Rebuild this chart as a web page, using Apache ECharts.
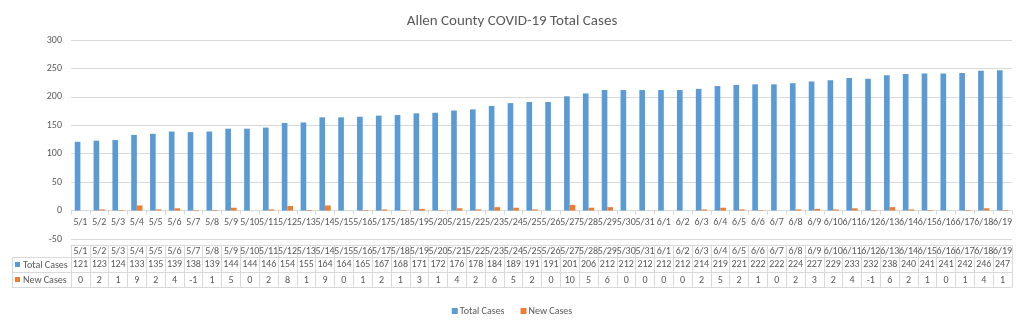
<!DOCTYPE html>
<html>
<head>
<meta charset="utf-8">
<script src="https://cdn.jsdelivr.net/npm/echarts@6/dist/echarts.min.js"></script>
<style>
html,body{margin:0;padding:0;background:#fff;}
#chart{width:1024px;height:325px;}
</style>
</head>
<body>
<div id="chart"></div>
<script>
var categories = ['5/1','5/2','5/3','5/4','5/5','5/6','5/7','5/8','5/9','5/10','5/11','5/12','5/13','5/14','5/15','5/16','5/17','5/18','5/19','5/20','5/21','5/22','5/23','5/24','5/25','5/26','5/27','5/28','5/29','5/30','5/31','6/1','6/2','6/3','6/4','6/5','6/6','6/7','6/8','6/9','6/10','6/11','6/12','6/13','6/14','6/15','6/16','6/17','6/18','6/19'];
var totalCases = [121,123,124,133,135,139,138,139,144,144,146,154,155,164,164,165,167,168,171,172,176,178,184,189,191,191,201,206,212,212,212,212,212,214,219,221,222,222,224,227,229,233,232,238,240,241,241,242,246,247];
var newCases = [0,2,1,9,2,4,-1,1,5,0,2,8,1,9,0,1,2,1,3,1,4,2,6,5,2,0,10,5,6,0,0,0,0,2,5,2,1,0,2,3,2,4,-1,6,2,1,0,1,4,1];
var yTicks = {min: -50, max: 300, interval: 50};
var seriesNames = ['Total Cases', 'New Cases'];

var FONT = "Carlito, 'Liberation Sans Narrow', 'Liberation Sans', sans-serif";
var TXT = '#595959';
var LINE = '#d9d9d9';
var BLUE = '#5B9BD5';
var ORANGE = '#ED7D31';

var H = 325, GRID_TOP = 40, GRID_BOTTOM = 86;
var gridH = H - GRID_TOP - GRID_BOTTOM;
// distance from grid bottom edge up to the zero line (labels of an onZero axis stay at the grid edge)
var zeroLift = gridH * (0 - yTicks.min) / (yTicks.max - yTicks.min);

function tableAxis(offset, tickLen, margin, fmt, showLabel) {
  return {
    type: 'category', data: categories, gridIndex: 0, position: 'bottom', offset: offset,
    axisLine: {show: true, onZero: false, lineStyle: {color: LINE}},
    axisTick: {show: tickLen > 0, interval: 0, length: tickLen, lineStyle: {color: LINE}},
    axisLabel: {show: showLabel, interval: 0, margin: margin, verticalAlign: 'middle', color: TXT, fontSize: 10, fontFamily: FONT, hideOverlap: false, formatter: fmt},
    splitLine: {show: false}
  };
}

var chart = echarts.init(document.getElementById('chart'), null, {renderer: 'canvas'});
chart.setOption({
  animation: false,
  backgroundColor: '#fff',
  title: {text: 'Allen County COVID-19 Total Cases', left: 'center', top: 9,
    textStyle: {color: TXT, fontSize: 15, fontWeight: 'normal', fontFamily: FONT}},
  legend: {data: seriesNames, bottom: 4, left: 'center', itemWidth: 6, itemHeight: 6, itemGap: 16,
    icon: 'rect', textStyle: {color: TXT, fontSize: 10, fontFamily: FONT, padding: [0, 0, 0, -3]}},
  grid: {left: 71, right: 12, top: GRID_TOP, bottom: GRID_BOTTOM, containLabel: false},
  xAxis: [
    {type: 'category', data: categories,
      axisLine: {show: true, onZero: true, lineStyle: {color: LINE}},
      axisTick: {show: true, interval: 0, length: 4, lineStyle: {color: LINE}},
      axisLabel: {interval: 0, margin: 12 - zeroLift, verticalAlign: 'middle', color: TXT, fontSize: 10, fontFamily: FONT, hideOverlap: false},
      splitLine: {show: false}},
    tableAxis(6, 12, 6, function (v) { return v; }, true),
    tableAxis(18, 15, 7.5, function (v, i) { return String(totalCases[i]); }, true),
    tableAxis(33, 15, 8, function (v, i) { return String(newCases[i]); }, true),
    tableAxis(48, 0, 0, function () { return ''; }, false)
  ],
  yAxis: {type: 'value', min: yTicks.min, max: yTicks.max, interval: yTicks.interval,
    axisLine: {show: false}, axisTick: {show: false},
    axisLabel: {color: TXT, fontSize: 10, fontFamily: FONT, margin: 9},
    splitLine: {lineStyle: {color: LINE, width: 1}}},
  series: [
    {name: seriesNames[0], type: 'bar', data: totalCases, itemStyle: {color: BLUE}, barGap: '0%', barCategoryGap: '40%'},
    {name: seriesNames[1], type: 'bar', data: newCases, itemStyle: {color: ORANGE}, barGap: '0%', barCategoryGap: '40%'}
  ],
  graphic: [
    {type: 'line', shape: {x1: 12, y1: 257.5, x2: 71, y2: 257.5}, style: {stroke: LINE, lineWidth: 1}, silent: true},
    {type: 'line', shape: {x1: 12, y1: 272.5, x2: 71, y2: 272.5}, style: {stroke: LINE, lineWidth: 1}, silent: true},
    {type: 'line', shape: {x1: 12, y1: 287.5, x2: 71, y2: 287.5}, style: {stroke: LINE, lineWidth: 1}, silent: true},
    {type: 'line', shape: {x1: 12.5, y1: 257, x2: 12.5, y2: 288}, style: {stroke: LINE, lineWidth: 1}, silent: true},
    {type: 'rect', shape: {x: 15, y: 262, width: 5, height: 5}, style: {fill: BLUE}, silent: true},
    {type: 'text', x: 23, y: 265, style: {text: seriesNames[0], fill: TXT, font: '10px ' + FONT, verticalAlign: 'middle'}, silent: true},
    {type: 'rect', shape: {x: 15, y: 277, width: 5, height: 5}, style: {fill: ORANGE}, silent: true},
    {type: 'text', x: 23, y: 280, style: {text: seriesNames[1], fill: TXT, font: '10px ' + FONT, verticalAlign: 'middle'}, silent: true}
  ]
});
</script>
</body>
</html>
